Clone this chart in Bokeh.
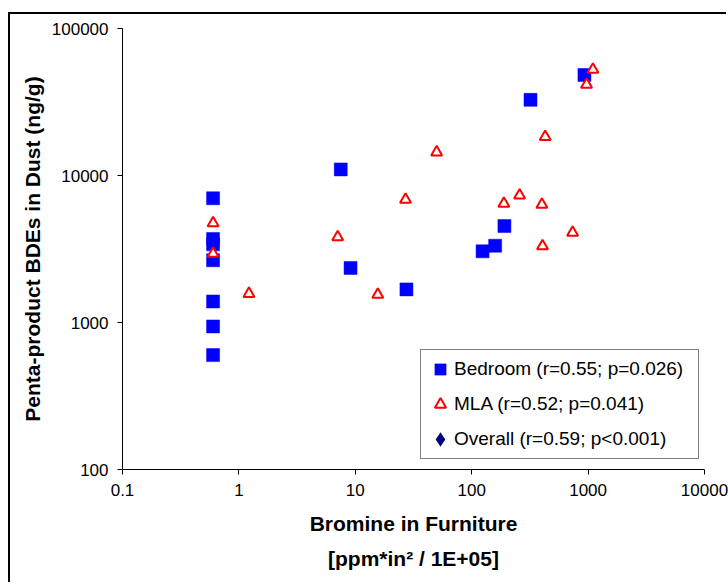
import math
from bokeh.plotting import figure
from bokeh.models import Range1d, FixedTicker, Legend, LegendItem, InlineStyleSheet
from bokeh.embed import file_html
from bokeh.resources import INLINE

# ---- data -------------------------------------------------------------
x_ticks = [0.1, 1, 10, 100, 1000, 10000]
x_tick_labels = ["0.1", "1", "10", "100", "1000", "10000"]
y_ticks = [100, 1000, 10000, 100000]
y_tick_labels = ["100", "1000", "10000", "100000"]

bed_x = [0.6, 0.6, 0.6, 0.6, 0.6, 0.6, 0.6, 7.5, 9.1, 27.5, 124, 159, 191, 320, 930]
bed_y = [7000, 3700, 3400, 2650, 1390, 940, 600, 11000, 2350, 1680, 3050, 3330, 4530, 32700, 48300]

mla_x = [0.6, 0.6, 1.22, 7.06, 15.6, 27.0, 50, 189, 258, 401, 406, 428, 736, 970, 1100]
mla_y = [4750, 2940, 1570, 3810, 1550, 6850, 14400, 6440, 7330, 6340, 3310, 18300, 4090, 41600, 52600]

legend_labels = ["Bedroom (r=0.55; p=0.026)",
                 "MLA (r=0.52; p=0.041)",
                 "Overall (r=0.59; p<0.001)"]

x_title = "Bromine in Furniture\n[ppm*in\u00b2 / 1E+05]"
y_title = "Penta-product BDEs in Dust (ng/g)"

FONT = "Liberation Sans"

# ---- figure -----------------------------------------------------------
W, H = 728, 584
p = figure(width=W, height=H, x_axis_type="log", y_axis_type="log",
           x_range=Range1d(0.1, 10000), y_range=Range1d(100, 100000),
           output_backend="svg", toolbar_location=None,
           min_border_left=122, min_border_right=24,
           min_border_top=28, min_border_bottom=115,
           background_fill_color="white", border_fill_color="white")
p.outline_line_color = None
p.xgrid.visible = False
p.ygrid.visible = False

# outer frame of the figure (only its left and top edges are in view)
frame_css = InlineStyleSheet(css="""
:host { position: relative; }
:host::after {
  content: "";
  position: absolute;
  left: 8px; top: 12px;
  width: 718px; height: 570px;
  border-left: 2px solid #000;
  border-top: 2px solid #000;
  pointer-events: none;
  box-sizing: border-box;
}
""")
p.stylesheets = [frame_css]

p.xaxis.ticker = FixedTicker(ticks=x_ticks, minor_ticks=[])
p.yaxis.ticker = FixedTicker(ticks=y_ticks, minor_ticks=[])
p.xaxis.major_label_overrides = dict(zip(x_ticks, x_tick_labels))
p.yaxis.major_label_overrides = dict(zip(y_ticks, y_tick_labels))

for ax in (p.xaxis[0], p.yaxis[0]):
    ax.axis_line_color = "black"
    ax.axis_line_width = 1
    ax.major_tick_line_color = "black"
    ax.major_tick_out = 5
    ax.major_tick_in = 0
    ax.minor_tick_line_color = None
    ax.major_label_text_font = FONT
    ax.major_label_text_font_size = "17px"
    ax.major_label_text_color = "black"
    ax.axis_label_text_font = FONT
    ax.axis_label_text_font_size = "21px"
    ax.axis_label_text_font_style = "bold"
    ax.axis_label_text_color = "black"
p.xaxis.major_label_standoff = 9
p.yaxis.major_label_standoff = 9

p.yaxis.axis_label = y_title
p.yaxis.axis_label_standoff = 5
p.xaxis.axis_label = x_title
p.xaxis.axis_label_standoff = 13
p.xaxis.axis_label_text_line_height = 1.55
p.xaxis.axis_label_text_align = "center"

# ---- glyphs -----------------------------------------------------------
r_bed = p.scatter(bed_x, bed_y, marker="square", size=13,
                  fill_color="#0000FF", line_color="#0000FF", line_width=0.5)
r_mla = p.scatter(mla_x, mla_y, marker="triangle", size=11,
                  fill_color="white", line_color="#FF0000", line_width=2)
# the "Overall" series is all samples together; it has no visible marks
r_all = p.scatter(bed_x + mla_x, bed_y + mla_y, marker="diamond", size=0,
                  fill_color="#000080", line_color="#000080", line_width=1.8,
                  line_join="miter")

legend = Legend(items=[LegendItem(label=legend_labels[0], renderers=[r_bed]),
                       LegendItem(label=legend_labels[1], renderers=[r_mla]),
                       LegendItem(label=legend_labels[2], renderers=[r_all])],
                location=(298, 10))
legend.label_text_font = FONT
legend.label_text_font_size = "19px"
legend.label_text_color = "black"
legend.glyph_width = 28
legend.glyph_height = 28
legend.label_height = 28
legend.label_width = 239
legend.label_standoff = 0
legend.padding = 5
legend.spacing = 7
legend.border_line_color = "black"
legend.border_line_width = 1
legend.background_fill_color = "white"
legend.background_fill_alpha = 1
p.add_layout(legend)

open("out.html", "w").write(file_html(p, INLINE))
